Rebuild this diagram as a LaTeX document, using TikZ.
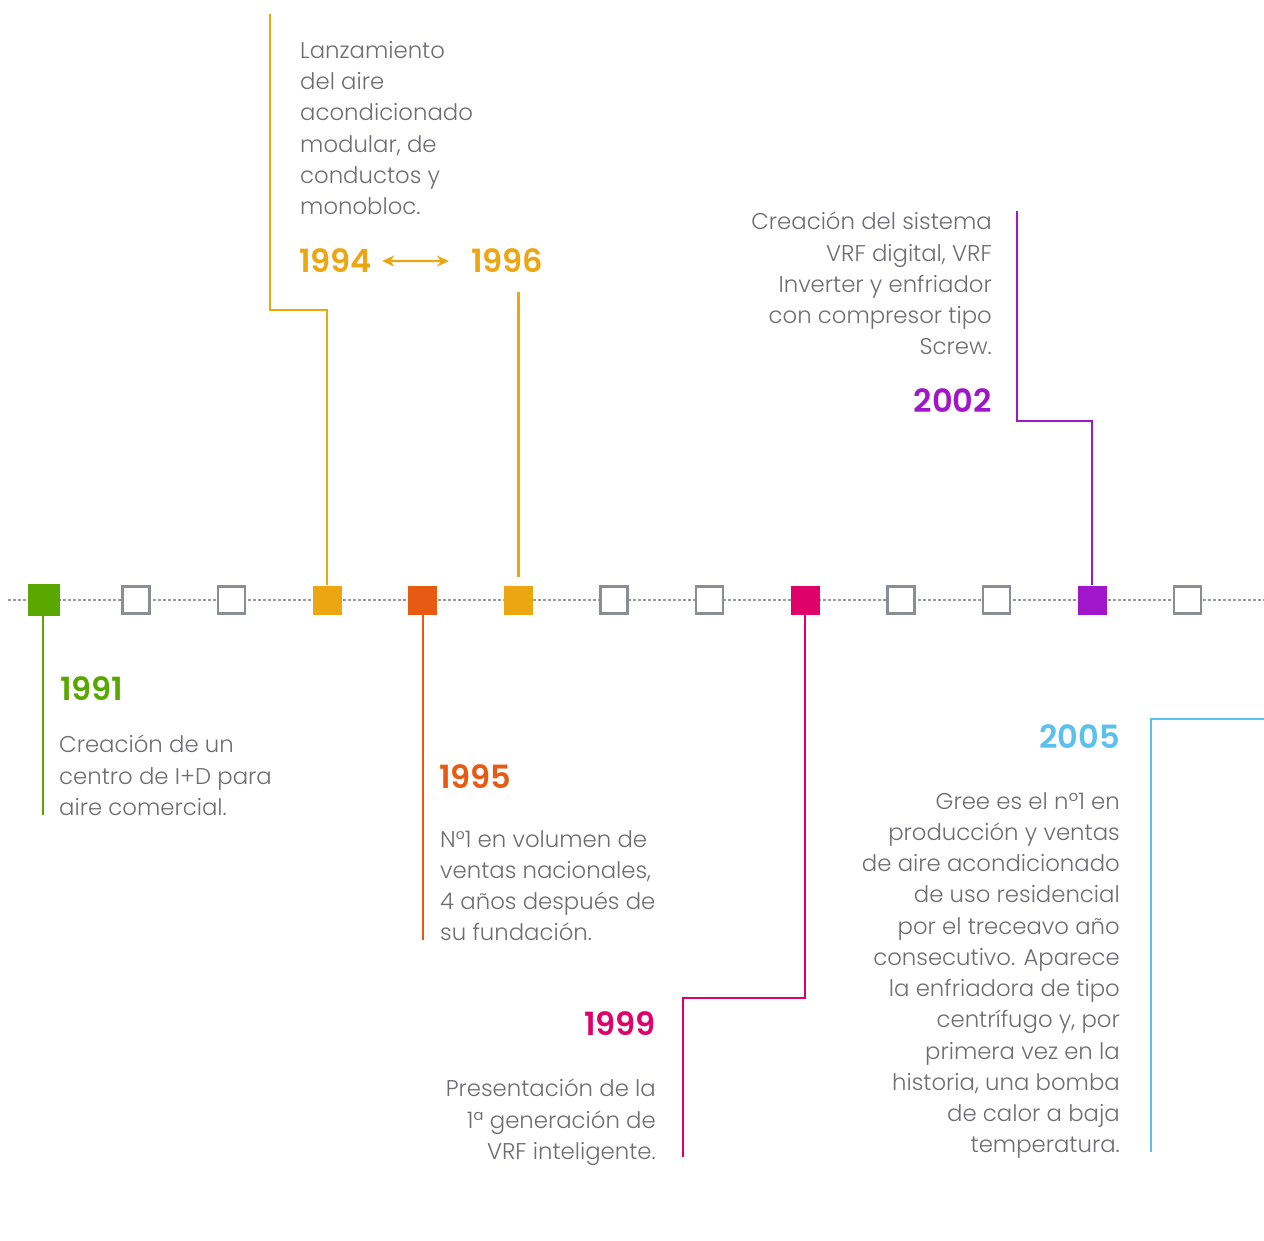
\documentclass[tikz,border=0pt]{standalone}
\usepackage{fontspec}
\setmainfont{Poppins Light}
\newfontfamily\yearfont{Poppins SemiBold}
\usetikzlibrary{arrows.meta}

\definecolor{txtgray}{HTML}{6D6E71}
\definecolor{boxgray}{HTML}{8A8D93}
\definecolor{dotgray}{HTML}{9A9A9A}
\definecolor{cgreen}{HTML}{5AA700}
\definecolor{cyellow}{HTML}{EBA612}
\definecolor{corange}{HTML}{E65A12}
\definecolor{cpink}{HTML}{E0006A}
\definecolor{cpurple}{HTML}{A016C8}
\definecolor{cblue}{HTML}{5BC0EB}

\tikzset{
  hollow/.style={draw=boxgray,line width=2.5pt,fill=white,minimum size=27pt,inner sep=0pt},
  filled/.style={fill=#1,minimum size=29pt,inner sep=0pt},
  stem/.style={draw=#1,line width=2.2pt},
  year/.style={text=#1,font=\yearfont\fontsize{32}{32}\selectfont,inner sep=0pt},
  blurb/.style={text=txtgray,font=\fontsize{22.8}{31.25}\selectfont,inner sep=0pt}
}

\begin{document}
\begin{tikzpicture}[x=1pt,y=-1pt]
\useasboundingbox (0,0) rectangle (1264,1241);
%\draw[help lines] (0,0) grid[step=100] (1264,1241);
\draw[dotgray,line width=1.5pt,dash pattern=on 3pt off 2pt] (8,600) -- (1264,600);

% squares on the line
\node[filled=cgreen,minimum size=32pt] (s0) at (44,600) {};
\foreach \i in {1,2,6,7,9,10,12}
  \node[hollow] (s\i) at (40.5+95.6*\i,600) {};
\foreach \i/\c in {3/cyellow,4/corange,5/cyellow,8/cpink,11/cpurple}
  \node[filled=\c] (s\i) at (40.5+95.6*\i,600) {};

% 1991
\coordinate (e1991) at (43,815);
\draw[stem=cgreen] (s0.south -| e1991) -- (e1991);
\node[year=cgreen,anchor=base west] (y1991) at (60,700) {1991};
\node[blurb,anchor=north west,align=left] (t1991) at (59,735)
  {Creación de un\\centro de I+D para\\aire comercial.};

% 1994 - 1996
\coordinate (e1994) at (270,14);
\draw[stem=cyellow] (s3.north) |- (270,310) -- (e1994);
\node[year=cyellow,anchor=base west] (y1994) at (299,273) {1994};
\node[year=cyellow,anchor=base west] (y1996) at (471,273) {1996};
\draw[cyellow,line width=2.2pt,{Stealth[length=12pt,width=11pt]}-{Stealth[length=12pt,width=11pt]},
  shorten <=10pt,shorten >=22pt] (y1994.east) -- (y1996.west);
\coordinate (e1996) at (s5.north |- 0,292);
\draw[stem=cyellow] ([yshift=8pt]s5.north) -- (e1996);
\node[blurb,anchor=north west,align=left] (t1994) at (300,41)
  {Lanzamiento\\del aire\\acondicionado\\modular, de\\conductos y\\monobloc.};

% 1995
\coordinate (e1995) at (s4.south |- 0,940);
\draw[stem=corange] (s4.south) -- (e1995);
\node[year=corange,anchor=base west] (y1995) at (439,788) {1995};
\node[blurb,anchor=north west,align=left] (t1995) at (440,830)
  {N°1 en volumen de\\ventas nacionales,\\4 años después de\\su fundación.};

% 1999
\coordinate (e1999) at (683,1157);
\draw[stem=cpink] (s8.south) |- (683,998) -- (e1999);
\node[year=cpink,anchor=base east] (y1999) at (656,1035) {1999};
\node[blurb,anchor=north east,align=right] (t1999) at (656,1079)
  {Presentación de la\\1ª generación de\\VRF inteligente.};

% 2002
\coordinate (e2002) at (1017,211);
\draw[stem=cpurple] (s11.north) |- (1017,421) -- (e2002);
\node[year=cpurple,anchor=base east] (y2002) at (992,412) {2002};
\node[blurb,anchor=north east,align=right] (t2002) at (992,212)
  {Creación del sistema\\VRF digital, VRF\\Inverter y enfriador\\con compresor tipo\\Screw.};

% 2005
\coordinate (b2005) at (1264,719);
\coordinate (e2005) at (1151,1152);
\draw[stem=cblue] (b2005) -| (e2005);
\node[year=cblue,anchor=base east] (y2005) at (1120,748) {2005};
\node[blurb,anchor=north east,align=right] (t2005) at (1120,792)
  {Gree es el nº1 en\\producción y ventas\\de aire acondicionado\\de uso residencial\\por el treceavo año\\consecutivo. Aparece\\la enfriadora de tipo\\centrífugo y, por\\primera vez en la\\historia, una bomba\\de calor a baja\\temperatura.};
\end{tikzpicture}
\end{document}
